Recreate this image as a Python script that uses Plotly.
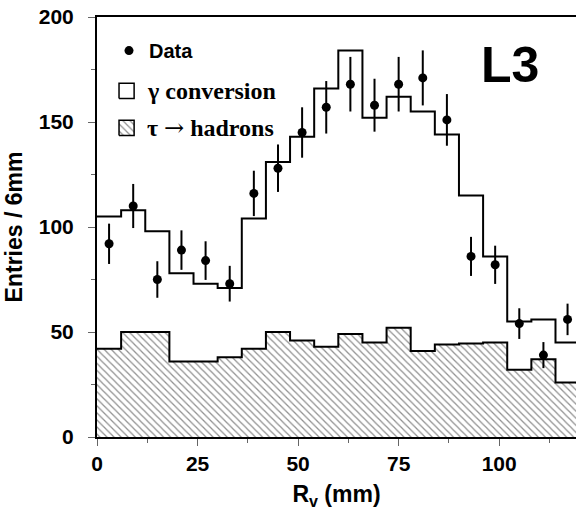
import plotly.graph_objects as go

# ---- data ----
bin_edges = [0, 6, 12, 18, 24, 30, 36, 42, 48, 54, 60, 66, 72, 78, 84, 90, 96, 102, 108, 114, 120]
bin_centers = [3, 9, 15, 21, 27, 33, 39, 45, 51, 57, 63, 69, 75, 81, 87, 93, 99, 105, 111, 117]
data_counts = [92, 110, 75, 89, 84, 73, 116, 128, 145, 157, 168, 158, 168, 171, 151, 86, 82, 54, 39, 56]
data_errors = [9.6, 10.5, 8.7, 9.4, 9.2, 8.5, 10.8, 11.3, 12.0, 12.5, 13.0, 12.6, 13.0, 13.1, 12.3, 9.3, 9.1, 7.3, 6.2, 7.5]
total_mc = [105, 108, 98, 78, 73, 71, 104, 131, 143, 166, 184, 152, 162, 155, 144, 115, 86, 55, 56, 45]
tau_hadrons = [42, 50, 50, 36, 36, 38, 42, 50, 46, 43, 49, 45, 52, 41, 44, 44.5, 45, 32, 37, 26]

y_ticks = [0, 50, 100, 150, 200]
x_ticks = [0, 25, 50, 75, 100]

SANS = "Liberation Sans, Arial, Helvetica, sans-serif"
SERIF = "Liberation Serif, Times New Roman, serif"
HATCH = dict(shape="\\", size=5, solidity=0.25, fgcolor="#222", bgcolor="white")

fig = go.Figure()

# tau -> hadrons hatched histogram
fig.add_trace(go.Scatter(
    x=bin_edges, y=tau_hadrons + [tau_hadrons[-1]],
    mode="lines", line=dict(shape="hv", color="black", width=2),
    fill="tozeroy", fillcolor="white", fillpattern=HATCH,
    showlegend=False, hoverinfo="skip"))

# total (gamma conversion + tau) histogram
fig.add_trace(go.Scatter(
    x=bin_edges, y=total_mc + [total_mc[-1]],
    mode="lines", line=dict(shape="hv", color="black", width=2),
    showlegend=False, hoverinfo="skip"))

# data points
fig.add_trace(go.Scatter(
    x=bin_centers, y=data_counts, mode="markers",
    marker=dict(color="black", size=9),
    error_y=dict(type="data", array=data_errors, color="black", thickness=2, width=0),
    showlegend=False))

# ---- custom legend on an overlay unit axis ----
fig.add_trace(go.Scatter(x=[0.0668], y=[0.920], mode="markers",
                         marker=dict(color="black", size=9),
                         xaxis="x2", yaxis="y2", showlegend=False, hoverinfo="skip"))
fig.add_trace(go.Scatter(x=[0.046, 0.0775, 0.0775, 0.046, 0.046],
                         y=[0.806, 0.806, 0.842, 0.842, 0.806],
                         mode="lines", line=dict(color="black", width=1.5),
                         xaxis="x2", yaxis="y2", showlegend=False, hoverinfo="skip"))
fig.add_trace(go.Scatter(x=[0.046, 0.0775, 0.0775, 0.046, 0.046],
                         y=[0.718, 0.718, 0.754, 0.754, 0.718],
                         mode="lines", line=dict(color="black", width=1.5),
                         fill="toself", fillcolor="white", fillpattern=HATCH,
                         xaxis="x2", yaxis="y2", showlegend=False, hoverinfo="skip"))

annotations = [
    dict(x=0.104, y=0.920, text="Data", font=dict(family=SANS, size=20, color="black", weight=700)),
    dict(x=0.100, y=0.824, text="γ conversion", font=dict(family=SERIF, size=24, color="black", weight=700)),
    dict(x=0.100, y=0.736,
         text="τ <span style=\"font-family:'DejaVu Serif';font-weight:normal\">→</span> hadrons",
         font=dict(family=SERIF, size=24, color="black", weight=700)),
]
for a in annotations:
    a.update(xref="paper", yref="paper", xanchor="left", yanchor="middle", showarrow=False)
annotations.append(dict(x=0.862, y=0.886, xref="paper", yref="paper", text="L3", showarrow=False,
                        xanchor="center", yanchor="middle",
                        font=dict(family=SANS, size=50, color="black", weight=700)))

fig.update_layout(
    width=576, height=512,
    margin=dict(l=97, r=0, t=17, b=75),
    paper_bgcolor="white", plot_bgcolor="white",
    annotations=annotations,
    xaxis=dict(
        range=[0, 119.1], tickvals=x_ticks, ticktext=[str(v) for v in x_ticks],
        ticks="outside", ticklen=7, tickwidth=1, tickcolor="#666",
        minor=dict(dtick=12.5, tick0=0, ticks="outside", ticklen=4, tickcolor="#666", tickwidth=1),
        showline=True, linecolor="black", linewidth=2, mirror=True,
        showgrid=False, zeroline=False,
        tickfont=dict(family=SANS, size=21, color="black", weight=700),
        title=dict(text="R<sub>v</sub> (mm)", standoff=12,
                   font=dict(family=SANS, size=23, color="black", weight=700)),
    ),
    yaxis=dict(
        range=[0, 200], tickvals=y_ticks, ticktext=[str(v) for v in y_ticks],
        ticks="outside", ticklen=7, tickwidth=1, tickcolor="#666",
        minor=dict(dtick=25, tick0=0, ticks="outside", ticklen=4, tickcolor="#666", tickwidth=1),
        showline=True, linecolor="black", linewidth=2, mirror=False,
        showgrid=False, zeroline=False, ticklabelstandoff=10,
        tickfont=dict(family=SANS, size=21, color="black", weight=700),
        title=dict(text="Entries / 6mm", standoff=10,
                   font=dict(family=SANS, size=23, color="black", weight=700)),
    ),
    xaxis2=dict(overlaying="x", range=[0, 1], visible=False, anchor="y2"),
    yaxis2=dict(overlaying="y", range=[0, 1], visible=False, anchor="x2"),
)

fig.write_html("out.html")
